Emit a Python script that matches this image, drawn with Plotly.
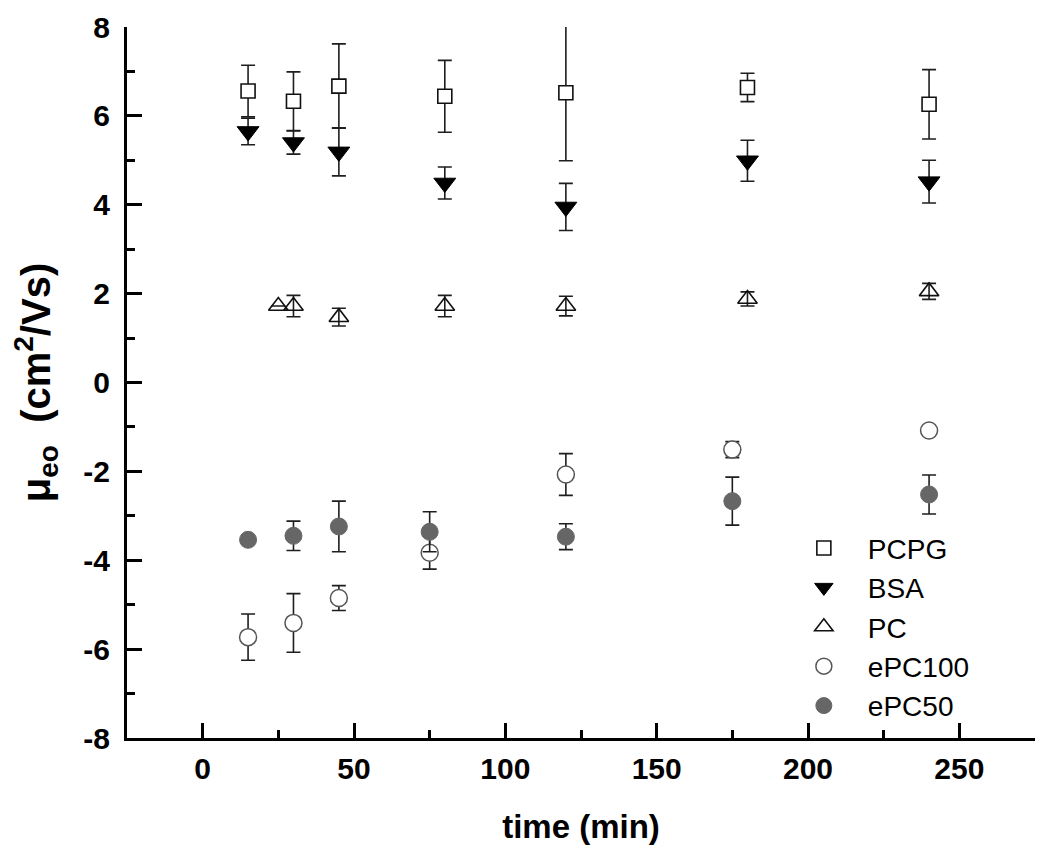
import plotly.graph_objects as go

# ---- data (time in min, mobility in cm2/Vs) ----
pcpg_t = [15, 30, 45, 80, 120, 180, 240]
pcpg_y = [6.56, 6.33, 6.67, 6.44, 6.52, 6.64, 6.26]
pcpg_e = [0.58, 0.66, 0.95, 0.81, 1.53, 0.32, 0.78]

bsa_t = [15, 30, 45, 80, 120, 180, 240]
bsa_y = [5.65, 5.40, 5.19, 4.49, 3.95, 4.99, 4.52]
bsa_e = [0.30, 0.26, 0.54, 0.36, 0.53, 0.46, 0.48]

pc_t = [25, 30, 45, 80, 120, 180, 240]
pc_y = [1.72, 1.72, 1.47, 1.72, 1.72, 1.88, 2.05]
pc_e = [0.0, 0.24, 0.20, 0.24, 0.22, 0.16, 0.18]

epc100_t = [15, 30, 45, 75, 120, 175, 240]
epc100_y = [-5.73, -5.41, -4.85, -3.83, -2.07, -1.51, -1.08]
epc100_e = [0.52, 0.66, 0.28, 0.37, 0.47, 0.18, 0.09]

epc50_t = [15, 30, 45, 75, 120, 175, 240]
epc50_y = [-3.54, -3.45, -3.24, -3.36, -3.47, -2.67, -2.52]
epc50_e = [0.10, 0.33, 0.57, 0.45, 0.29, 0.54, 0.44]

x_ticks = [0, 50, 100, 150, 200, 250]
y_ticks = [-8, -6, -4, -2, 0, 2, 4, 6, 8]
y_tick_text = ["-8", "-6", "-4", "-2", "0", "2", "4", "6", "8"]

FONT = "Liberation Sans, Arial, sans-serif"
ERRC = "#1e1e1e"


def err(vals):
    return dict(type="data", array=vals, visible=True, color=ERRC,
                thickness=1.6, width=7)


fig = go.Figure()
fig.add_trace(go.Scatter(
    x=pcpg_t, y=pcpg_y, error_y=err(pcpg_e), mode="markers", name="PCPG",
    cliponaxis=False,
    marker=dict(symbol="square", size=14, color="white",
                line=dict(color="#111111", width=1.6))))
fig.add_trace(go.Scatter(
    x=bsa_t, y=bsa_y, error_y=err(bsa_e), mode="markers", name="BSA",
    cliponaxis=False,
    marker=dict(symbol="triangle-down", size=19, color="black",
                line=dict(color="black", width=1))))
fig.add_trace(go.Scatter(
    x=pc_t, y=pc_y, error_y=err(pc_e), mode="markers", name="PC",
    cliponaxis=False,
    marker=dict(symbol="triangle-up", size=17, color="rgba(255,255,255,0)",
                line=dict(color="#111111", width=1.6))))
fig.add_trace(go.Scatter(
    x=epc100_t, y=epc100_y, error_y=err(epc100_e), mode="markers",
    name="ePC100", cliponaxis=False,
    marker=dict(symbol="circle", size=17, color="white",
                line=dict(color="#555555", width=1.5))))
fig.add_trace(go.Scatter(
    x=epc50_t, y=epc50_y, error_y=err(epc50_e), mode="markers", name="ePC50",
    cliponaxis=False,
    marker=dict(symbol="circle", size=17, color="#666666",
                line=dict(color="#666666", width=1))))

axis_common = dict(
    showline=True, linecolor="black", linewidth=3, mirror=False,
    ticks="inside", ticklen=15, tickwidth=3, tickcolor="black",
    showgrid=False, zeroline=False, automargin=False,
    tickfont=dict(family=FONT, size=30, color="black", weight="bold"),
)

fig.update_xaxes(
    range=[-25, 275], tickmode="array", tickvals=x_ticks,
    minor=dict(ticks="inside", ticklen=8, tickwidth=3, tickcolor="black",
               dtick=25, tick0=0, showgrid=False),
    title=dict(text="<b>time (min)</b>", standoff=31,
               font=dict(family=FONT, size=33, color="black")),
    ticklabelstandoff=2,
    **axis_common)
fig.update_yaxes(
    range=[-8, 8], tickmode="array", tickvals=y_ticks, ticktext=y_tick_text,
    minor=dict(ticks="inside", ticklen=8, tickwidth=3, tickcolor="black",
               dtick=1, tick0=0, showgrid=False),
    title=dict(text="<b>μ<sub>eo</sub>  (cm<sup>2</sup>/Vs)</b>", standoff=24,
               font=dict(family=FONT, size=40, color="black")),
    ticklabelstandoff=8,
    **axis_common)

fig.update_layout(
    width=1050, height=862,
    margin=dict(l=119, r=23, t=19, b=132),
    paper_bgcolor="white", plot_bgcolor="white",
    showlegend=True,
    legend=dict(x=0.719, y=0.302, xanchor="left", yanchor="top",
                bgcolor="rgba(0,0,0,0)", borderwidth=0,
                font=dict(family=FONT, size=28, color="black"),
                itemwidth=78, tracegroupgap=0),
)

fig.write_html("out.html")
